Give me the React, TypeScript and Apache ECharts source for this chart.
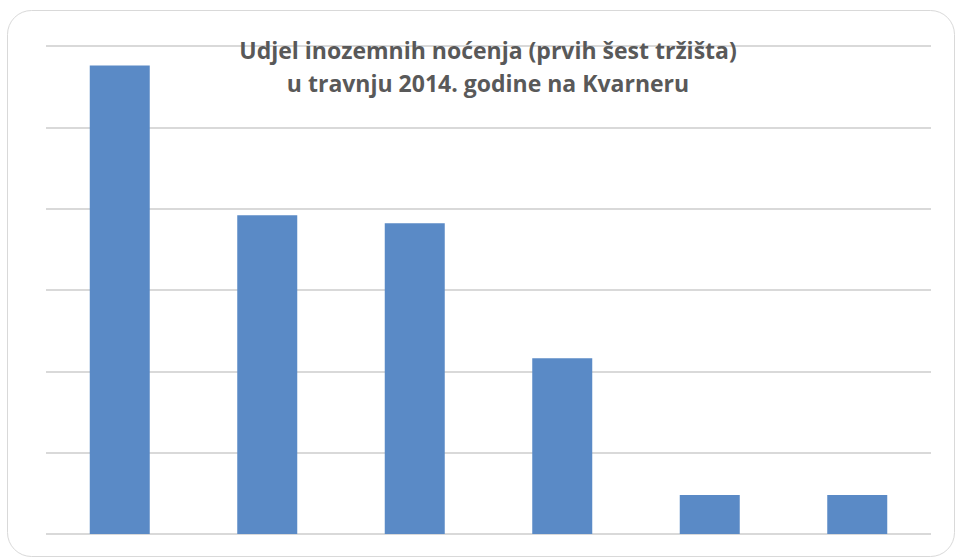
import React, { useEffect, useRef } from "react";
import * as echarts from "echarts";

const categories = ["Njemačka", "Austrija", "Slovenija", "Italija", "Mađarska", "Češka"];
const shares = [28.8, 19.6, 19.1, 10.8, 2.4, 2.4];
const titleLines = ["Udjel inozemnih noćenja (prvih šest tržišta)", "u travnju 2014. godine na Kvarneru"];

export default function App() {
  const ref = useRef<HTMLDivElement>(null);
  useEffect(() => {
    document.body.style.margin = "0";
    const chart = echarts.init(ref.current!, null, { renderer: "svg" });
    chart.setOption({
      animation: false,
      backgroundColor: "#ffffff",
      title: {
        text: titleLines.join("\n"),
        left: 483,
        top: 28,
        textAlign: "center",
        textStyle: {
          fontFamily: "Open Sans",
          fontWeight: "bold",
          fontSize: 23,
          lineHeight: 33,
          color: "#595959",
        },
      },
      graphic: [
        {
          type: "rect",
          shape: { x: 7.5, y: 10.5, width: 947, height: 546, r: 24 },
          style: { fill: "none", stroke: "#d9d9d9", lineWidth: 1 },
          z: -1,
        },
      ],
      grid: { left: 46, right: 27, top: 46, bottom: 25, containLabel: false },
      xAxis: {
        type: "category",
        data: categories,
        axisLine: { show: false },
        axisTick: { show: false },
        axisLabel: { show: false },
      },
      yAxis: {
        type: "value",
        min: 0,
        max: 30,
        interval: 5,
        axisLabel: { show: false },
        axisLine: { show: false },
        axisTick: { show: false },
        splitLine: { lineStyle: { color: "#d9d9d9", width: 2 } },
      },
      series: [
        {
          type: "bar",
          data: shares,
          barWidth: 60,
          itemStyle: { color: "#5a8ac6" },
          z: 2,
        },
      ],
    });
    return () => chart.dispose();
  }, []);
  return <div ref={ref} style={{ width: 958, height: 559 }} />;
}
